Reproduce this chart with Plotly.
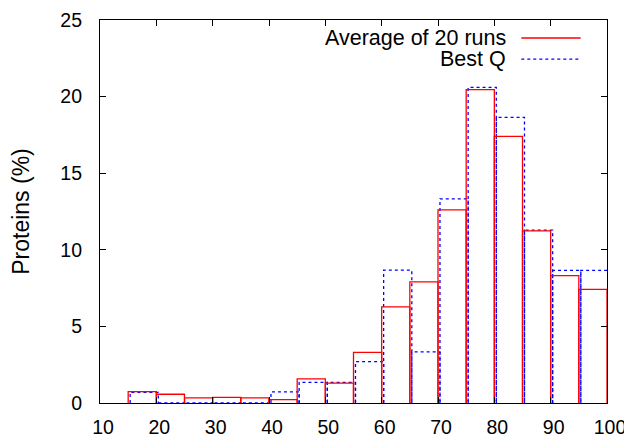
import plotly.graph_objects as go

bin_left = [15, 20, 25, 30, 35, 40, 45, 50, 55, 60, 65, 70, 75, 80, 85, 90, 95]
bin_width = 5
avg_runs = [0.74, 0.57, 0.33, 0.37, 0.33, 0.22, 1.58, 1.30, 3.30, 6.28, 7.90, 12.60, 20.46, 17.40, 11.24, 8.31, 7.42]
best_q = [0.70, 0.0, 0.0, 0.0, 0.0, 0.72, 1.35, 1.35, 2.70, 8.67, 3.34, 13.33, 20.60, 18.65, 11.28, 8.66, 8.66]
best_q_shift = 0.35

x_ticks = [10, 20, 30, 40, 50, 60, 70, 80, 90, 100]
y_ticks = [0, 5, 10, 15, 20, 25]


def box_path(lefts, values, width, shift=0.0):
    xs, ys = [], []
    for l, v in zip(lefts, values):
        a = l + shift
        b = l + width + shift
        xs += [a, a, b, b, None]
        ys += [0, v, v, 0, None]
    return xs, ys


fig = go.Figure()
bx, by = box_path(bin_left, best_q, bin_width, best_q_shift)
rx, ry = box_path(bin_left, avg_runs, bin_width)
fig.add_trace(go.Scatter(x=bx, y=by, mode="lines", name="Best Q",
                         line=dict(color="#0000ff", width=1.3, dash="dot"),
                         showlegend=False, hoverinfo="skip"))
fig.add_trace(go.Scatter(x=rx, y=ry, mode="lines", name="Average of 20 runs",
                         line=dict(color="#ff0000", width=1.3),
                         showlegend=False, hoverinfo="skip"))

family = "Liberation Sans, Arial, Helvetica, sans-serif"
tick_font = dict(family=family, size=19.5, color="black")
legend_font = dict(family=family, size=21.5, color="black")
title_font = dict(family=family, size=23, color="black")

axis_common = dict(showgrid=False, zeroline=False, showline=True, linecolor="black",
                   linewidth=1.2, mirror="ticks", ticks="inside", ticklen=6,
                   tickcolor="black", tickwidth=1, tickfont=tick_font, automargin=False)

fig.update_xaxes(range=[10, 100], tickvals=x_ticks, ticktext=[str(v) for v in x_ticks],
                 ticklabelstandoff=6, ticklabelshift=3, **axis_common)
fig.update_yaxes(range=[0, 25], tickvals=y_ticks, ticktext=[str(v) for v in y_ticks],
                 title=dict(text="Proteins (%)", font=title_font, standoff=24),
                 ticklabelstandoff=13, **axis_common)

# legend drawn gnuplot-style: text right-aligned, sample on the right
legend_items = [("Average of 20 runs", "#ff0000", "solid", 0.953),
                ("Best Q", "#0000ff", "dot", 0.898)]
annotations = []
shapes = []
for label, color, dash, yp in legend_items:
    annotations.append(dict(text=label, x=0.804, y=yp, xref="paper", yref="paper",
                            xanchor="right", yanchor="middle", showarrow=False,
                            font=legend_font))
    shapes.append(dict(type="line", xref="paper", yref="paper", x0=0.831, x1=0.948,
                       y0=yp, y1=yp, line=dict(color=color, width=1.3, dash=dash)))

# the page adds an 8px body margin, so the figure is drawn 8px smaller
fig.update_layout(width=624, height=427, plot_bgcolor="white", paper_bgcolor="white",
                  margin=dict(l=92, r=24.5, t=12, b=32), font=tick_font,
                  annotations=annotations, shapes=shapes, showlegend=False)

fig.write_html("out.html")
